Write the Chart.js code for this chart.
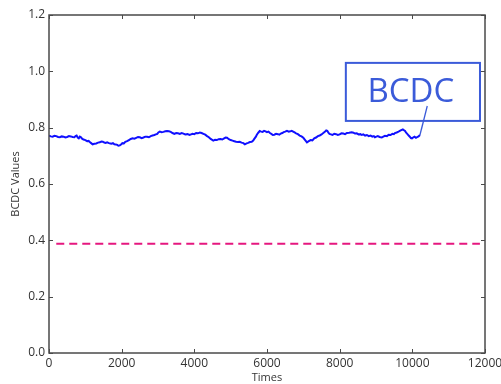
<!DOCTYPE html>
<html>
<head>
<meta charset="utf-8">
<script src="https://cdn.jsdelivr.net/npm/chart.js@4/dist/chart.umd.min.js"></script>
<style>
html,body{margin:0;padding:0;background:#fff;}
canvas{display:block;}
</style>
</head>
<body>
<canvas id="c" width="501" height="384"></canvas>
<script>
// ---- data ----
// [time, BCDC value]
const bcdcSeries = [
[0,.772],[50,.769],[100,.768],[150,.771],[200,.770],[250,.767],[300,.766],[350,.769],[400,.768],[450,.765],
[500,.767],[550,.770],[600,.769],[650,.767],[700,.766],[730,.770],[760,.772],[790,.765],[820,.762],[850,.768],
[880,.766],[910,.761],[950,.758],[1000,.756],[1050,.752],[1090,.753],[1130,.748],[1160,.745],[1200,.741],[1250,.743],
[1300,.744],[1350,.747],[1400,.748],[1440,.751],[1480,.750],[1520,.747],[1560,.746],[1600,.748],[1650,.745],[1690,.744],
[1720,.743],[1760,.745],[1800,.741],[1840,.740],[1880,.739],[1910,.736],[1950,.737],[1990,.741],[2020,.745],[2060,.744],
[2100,.750],[2150,.752],[2200,.756],[2250,.760],[2300,.762],[2350,.761],[2400,.764],[2450,.767],[2500,.766],[2550,.763],
[2600,.765],[2650,.768],[2700,.768],[2750,.766],[2800,.770],[2850,.772],[2900,.774],[2940,.776],[2980,.778],[3010,.783],
[3050,.786],[3100,.784],[3150,.785],[3200,.787],[3250,.788],[3300,.787],[3350,.785],[3400,.781],[3450,.778],[3500,.781],
[3550,.780],[3600,.778],[3650,.781],[3700,.779],[3750,.776],[3810,.777],[3870,.774],[3910,.776],[3950,.778],[4000,.777],
[4050,.781],[4100,.780],[4150,.783],[4200,.781],[4250,.778],[4300,.775],[4350,.770],[4400,.766],[4450,.760],[4490,.757],
[4520,.754],[4570,.757],[4620,.756],[4670,.759],[4720,.760],[4770,.758],[4820,.762],[4860,.765],[4900,.764],[4950,.759],
[5000,.756],[5050,.754],[5100,.752],[5150,.750],[5200,.749],[5250,.750],[5300,.747],[5350,.745],[5390,.741],[5440,.744],
[5480,.746],[5530,.749],[5580,.750],[5620,.754],[5650,.760],[5690,.767],[5720,.775],[5760,.782],[5800,.788],[5840,.786],
[5880,.785],[5920,.789],[5960,.787],[6000,.784],[6040,.786],[6080,.781],[6120,.778],[6160,.774],[6200,.775],[6250,.778],
[6300,.777],[6340,.775],[6380,.779],[6420,.781],[6460,.784],[6500,.786],[6550,.789],[6600,.786],[6640,.787],[6680,.789],
[6720,.786],[6760,.783],[6800,.780],[6850,.777],[6900,.772],[6950,.769],[7000,.764],[7050,.756],[7100,.748],[7150,.752],
[7200,.756],[7250,.755],[7300,.762],[7350,.765],[7400,.770],[7450,.772],[7500,.776],[7550,.781],[7600,.786],[7630,.790],
[7660,.789],[7690,.782],[7720,.778],[7760,.776],[7800,.774],[7850,.778],[7900,.777],[7950,.774],[8000,.776],[8050,.780],
[8100,.779],[8150,.777],[8200,.781],[8260,.782],[8330,.784],[8380,.782],[8420,.779],[8470,.780],[8520,.776],[8570,.777],
[8610,.774],[8650,.776],[8700,.772],[8750,.774],[8800,.770],[8850,.772],[8900,.768],[8940,.770],[8970,.766],[9010,.768],
[9050,.770],[9100,.767],[9160,.765],[9200,.768],[9250,.771],[9300,.770],[9350,.775],[9400,.774],[9450,.778],[9490,.777],
[9520,.781],[9570,.783],[9620,.786],[9680,.790],[9740,.794],[9770,.791],[9800,.788],[9830,.782],[9860,.778],[9900,.772],
[9930,.768],[9960,.763],[9990,.762],[10030,.766],[10060,.768],[10100,.764],[10130,.766],[10170,.769],[10210,.774]
];
const thresholdTimes = [200, 11860];
const thresholdValues = [0.388, 0.388];
const annotationLabel = 'BCDC';
const connectorTimes = [10210, 10411];
const connectorValues = [0.774, 0.877];
const xTickValues = [0,2000,4000,6000,8000,10000,12000];
const yTickValues = [0.0,0.2,0.4,0.6,0.8,1.0,1.2];
const xTitle = 'Times';
const yTitle = 'BCDC Values';

// annotation box extent in data units
const annBox = {x0: 8170, x1: 11862, y0: 0.824, y1: 1.03};

const toPts = (xs, ys) => xs.map((x, i) => ({x, y: ys[i]}));

const FONT = '"Open Sans", "Liberation Sans", sans-serif';

const framePlugin = {
  id: 'frame',
  beforeDatasetsDraw(chart) {
    const {ctx, scales: {x, y}} = chart;
    const l = x.getPixelForValue(annBox.x0), r = x.getPixelForValue(annBox.x1);
    const t = y.getPixelForValue(annBox.y1), b = y.getPixelForValue(annBox.y0);
    ctx.save();
    ctx.fillStyle = '#fff';
    ctx.fillRect(l, t, r - l, b - t);
    ctx.strokeStyle = '#3b5bd9';
    ctx.lineWidth = 2;
    ctx.strokeRect(l, t, r - l, b - t);
    ctx.fillStyle = '#3b5bd9';
    ctx.font = '33px ' + FONT;
    ctx.textAlign = 'center';
    ctx.textBaseline = 'middle';
    ctx.fillText(annotationLabel, (l + r) / 2 - 2, (t + b) / 2 + 1);
    ctx.restore();
  },
  afterDatasetsDraw(chart) {
    const {ctx, chartArea: a, scales: {x, y}} = chart;
    ctx.save();
    ctx.strokeStyle = '#4a4a4a';
    ctx.lineWidth = 1.5;
    ctx.strokeRect(a.left, a.top, a.right - a.left, a.bottom - a.top);
    ctx.lineWidth = 1;
    ctx.beginPath();
    xTickValues.forEach(v => {
      const px = Math.round(x.getPixelForValue(v)) + 0.5;
      ctx.moveTo(px, a.bottom); ctx.lineTo(px, a.bottom - 4);
      ctx.moveTo(px, a.top); ctx.lineTo(px, a.top + 4);
    });
    yTickValues.forEach(v => {
      const py = Math.round(y.getPixelForValue(v)) + 0.5;
      ctx.moveTo(a.left, py); ctx.lineTo(a.left + 4, py);
      ctx.moveTo(a.right, py); ctx.lineTo(a.right - 4, py);
    });
    ctx.stroke();
    ctx.restore();
  }
};

new Chart(document.getElementById('c'), {
  type: 'line',
  data: {
    datasets: [
      {
        data: bcdcSeries.map(([x, y]) => ({x, y})),
        borderColor: '#1010ff',
        borderWidth: 2,
        pointRadius: 0,
        tension: 0,
        fill: false
      },
      {
        data: toPts(thresholdTimes, thresholdValues),
        borderColor: '#e5177f',
        borderWidth: 2,
        borderDash: [8, 5],
        pointRadius: 0,
        fill: false
      },
      {
        data: toPts(connectorTimes, connectorValues),
        borderColor: '#3b5bd9',
        borderWidth: 1.3,
        pointRadius: 0,
        fill: false
      }
    ]
  },
  options: {
    responsive: false,
    animation: false,
    devicePixelRatio: 1,
    layout: {padding: {left: 0, right: 16, top: 15, bottom: 0}},
    plugins: {legend: {display: false}, tooltip: {enabled: false}},
    scales: {
      x: {
        type: 'linear',
        min: 0, max: 12000,
        grid: {display: false, drawTicks: false},
        border: {display: false},
        afterBuildTicks: s => { s.ticks = xTickValues.map(v => ({value: v})); },
        ticks: {
          padding: 3,
          maxRotation: 0,
          autoSkip: false,
          color: '#333',
          font: {family: FONT, size: 12},
          callback: v => String(v)
        },
        title: {
          display: true, text: xTitle, color: '#333',
          font: {family: FONT, size: 11},
          padding: {top: 0, bottom: 0}
        },
        afterFit: s => { s.height = 31; s.paddingLeft = 0; s.paddingRight = 0; }
      },
      y: {
        type: 'linear',
        min: 0, max: 1.2,
        grid: {display: false, drawTicks: false},
        border: {display: false},
        afterBuildTicks: s => { s.ticks = yTickValues.map(v => ({value: v})); },
        ticks: {
          padding: 4,
          autoSkip: false,
          color: '#333',
          font: {family: FONT, size: 12},
          callback: v => Number(v).toFixed(1)
        },
        title: {
          display: true, text: yTitle, color: '#333',
          font: {family: FONT, size: 11},
          padding: {top: 9, bottom: 0}
        },
        afterFit: s => { s.width = 49; s.paddingTop = 0; s.paddingBottom = 0; }
      }
    }
  },
  plugins: [framePlugin]
});
</script>
</body>
</html>
